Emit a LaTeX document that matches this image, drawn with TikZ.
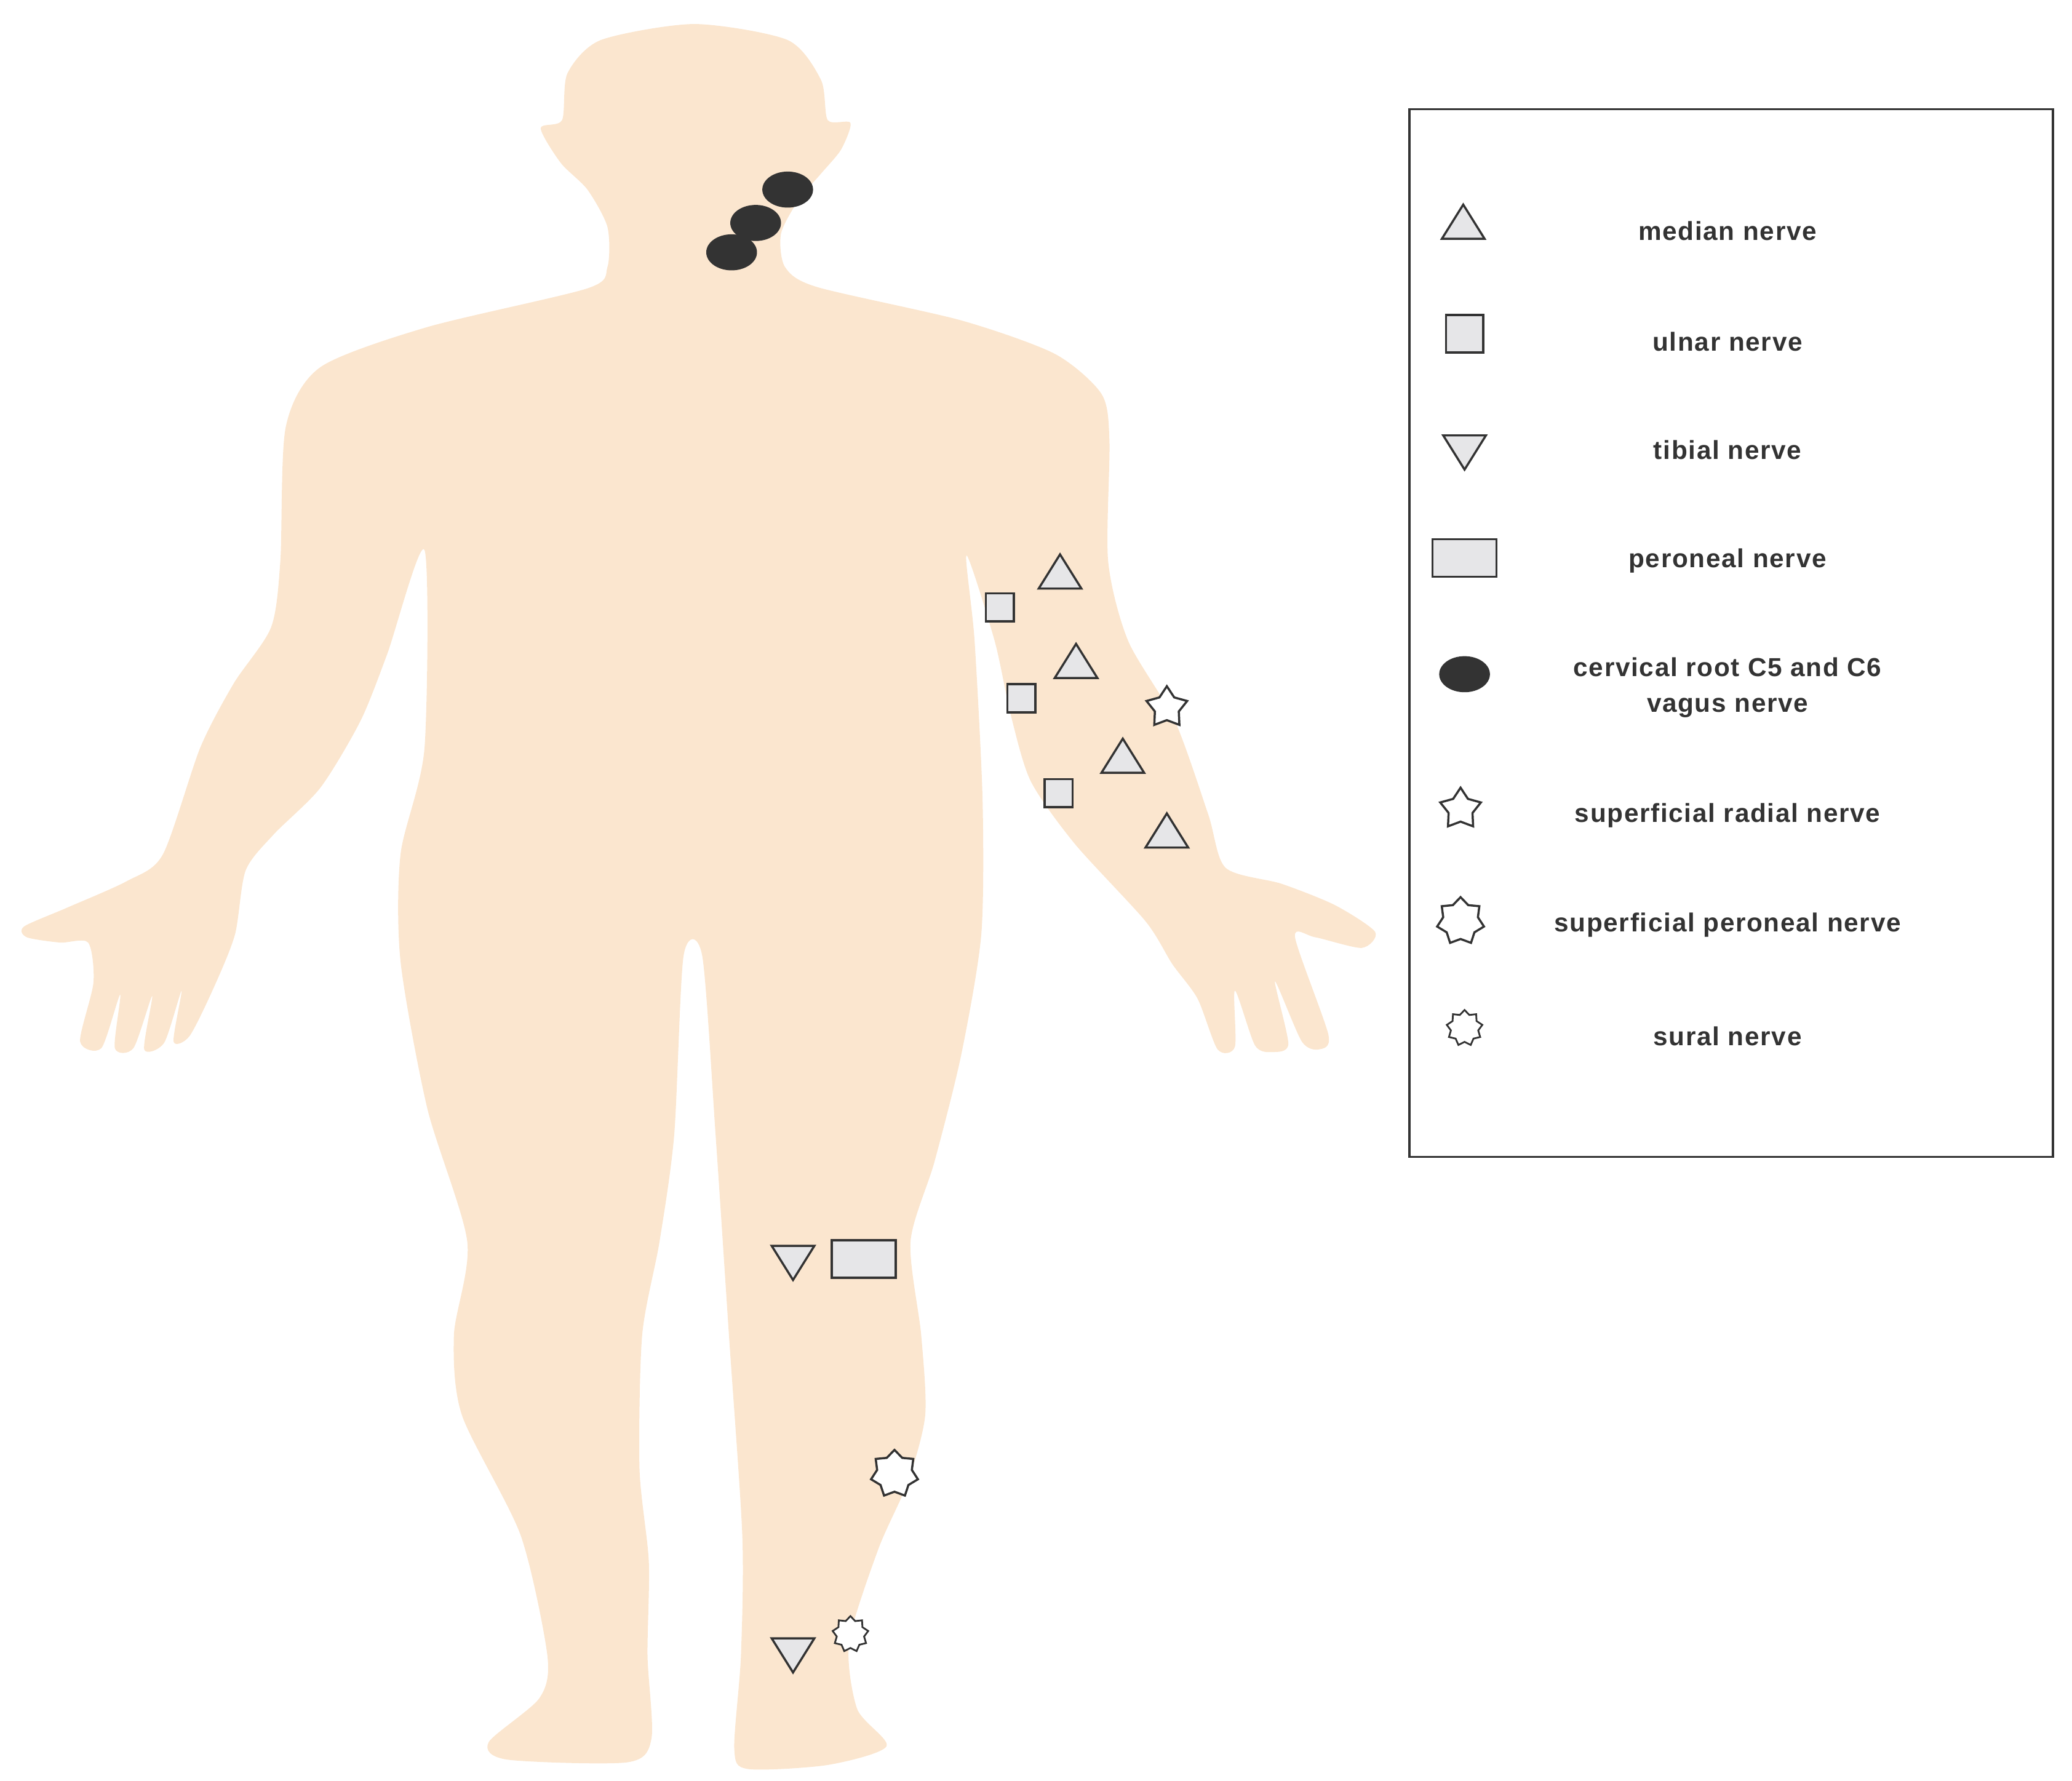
\documentclass[tikz,border=0pt]{standalone}
\usepackage{fontspec}
\setmainfont{Liberation Sans}[LetterSpace=4]
\usetikzlibrary{shapes.geometric}
\definecolor{skin}{HTML}{FBE6CF}
\definecolor{mk}{HTML}{E6E6E8}
\definecolor{dk}{HTML}{333333}
\tikzset{
 tri/.style={draw=dk,fill=mk,line width=1.6pt,isosceles triangle,isosceles triangle apex angle=64,shape border rotate=90,minimum width=32pt,minimum height=22pt,inner sep=0pt},
 trid/.style={tri,shape border rotate=-90},
 sq/.style={draw=dk,fill=mk,line width=1.6pt,rectangle,minimum size=21pt,inner sep=0pt},
 prect/.style={draw=dk,fill=mk,line width=1.6pt,rectangle,minimum width=48pt,minimum height=28pt,inner sep=0pt},
 blob/.style={fill=dk,ellipse,minimum width=38pt,minimum height=27pt,inner sep=0pt},
 sfive/.style={draw=dk,fill=white,line width=1.6pt,star,star points=5,star point ratio=1.7,minimum size=32pt,inner sep=0pt},
 sseven/.style={draw=dk,fill=white,line width=1.6pt,star,star points=7,star point ratio=1.35,minimum size=36pt,inner sep=0pt},
 ssural/.style={draw=dk,fill=white,line width=1.3pt,star,star points=9,star point ratio=1.3,minimum size=27pt,inner sep=0pt},
 lab/.style={font=\bfseries\fontsize{19.5}{27}\selectfont,text=dk,align=center},
}
\begin{document}
\begin{tikzpicture}[x=1pt,y=-1pt]
\useasboundingbox (0,0) rectangle (1552,1334);
\fill[skin] plot[smooth cycle,tension=0.45] coordinates {
(520,18) (590,30) (615,60) (620,90) (637,92) (630,112) (615,130) (598,150) (585,175) (588,200)
(612,215) (720,240) (790,265) (825,295) (831,330) (830,420) (845,480) (880,540) (905,610) (918,650)
(960,662) (1000,678) (1030,698) (1020,710) (985,702) (970,702) (995,775) (988,786) (975,780) (955,735)
(965,782) (953,788) (940,783) (925,742) (925,784) (912,786) (897,748) (878,722) (858,690)
(805,632) (772,585) (757,535) (745,480) (724,416) (730,480) (736,600) (735,700) (720,790) (700,870)
(682,930) (690,1000) (693,1060) (680,1110) (658,1160) (636,1230) (642,1280) (664,1308) (620,1322) (560,1325)
(550,1310) (555,1240) (556,1150) (546,1000) (536,850) (526,716) (512,716) (505,850) (494,930) (481,1000)
(479,1100) (486,1170) (485,1240) (488,1302) (470,1320) (380,1318) (366,1305) (404,1272) (410,1240) (390,1150)
(346,1060) (340,1000) (350,930) (320,830) (300,720) (300,640) (318,560) (318,412)
(290,490) (270,540) (240,590) (205,625) (184,652) (176,700) (160,740) (142,776) (130,780) (136,742)
(123,781) (108,786) (114,746) (100,785) (86,785) (90,745) (76,785) (60,780) (70,736) (66,706)
(45,706) (20,702) (18,694) (50,680) (95,660) (122,640) (150,560) (175,512) (203,470) (210,420)
(214,320) (240,275) (320,245) (440,216) (455,200) (455,170) (440,142) (420,122) (405,96) (421,90)
(425,55) (450,30) };
% neck points
\node[blob] (c1) at (590,142) {};
\node[blob] (c2) at (566,167) {};
\node[blob] (c3) at (548,189) {};
% arm
\node[tri] (m1) at (794,432) {};
\node[tri] (m2) at (806,499) {};
\node[tri] (m3) at (841,570) {};
\node[tri] (m4) at (874,626) {};
\node[sq] (u1) at (749,455) {};
\node[sq] (u2) at (765,523) {};
\node[sq] (u3) at (793,594) {};
\node[sfive] (r1) at (874,530) {};
% leg
\node[trid] (t1) at (594,942) {};
\node[prect] (p1) at (647,943) {};
\node[sseven] (sp1) at (670,1104) {};
\node[trid] (t2) at (594,1236) {};
\node[ssural] (s1) at (637,1224) {};
% legend
\node[draw=dk,line width=1.4pt,minimum width=482pt,minimum height=785pt,anchor=north west,inner sep=0pt] (box) at (1055,81) {};
\node[tri] (lm) at (1096,170) {};
\node[sq,minimum size=28pt] (lu) at (1097,250) {};
\node[trid] (lt) at (1097,335) {};
\node[prect] (lp) at (1097,418) {};
\node[blob] (lc) at (1097,505) {};
\node[sfive] (lr) at (1094,606) {};
\node[sseven] (ls) at (1094,690) {};
\node[ssural] (lsu) at (1097,770) {};
\node[lab] at (1294,173) {median nerve};
\node[lab] at (1294,256) {ulnar nerve};
\node[lab] at (1294,337) {tibial nerve};
\node[lab] at (1294,420) {peroneal nerve};
\node[lab] at (1294,515) {cervical root C5 and C6\\vagus nerve};
\node[lab] at (1294,611) {superficial radial nerve};
\node[lab] at (1294,693) {superficial peroneal nerve};
\node[lab] at (1294,776) {sural nerve};
\end{tikzpicture}
\end{document}
